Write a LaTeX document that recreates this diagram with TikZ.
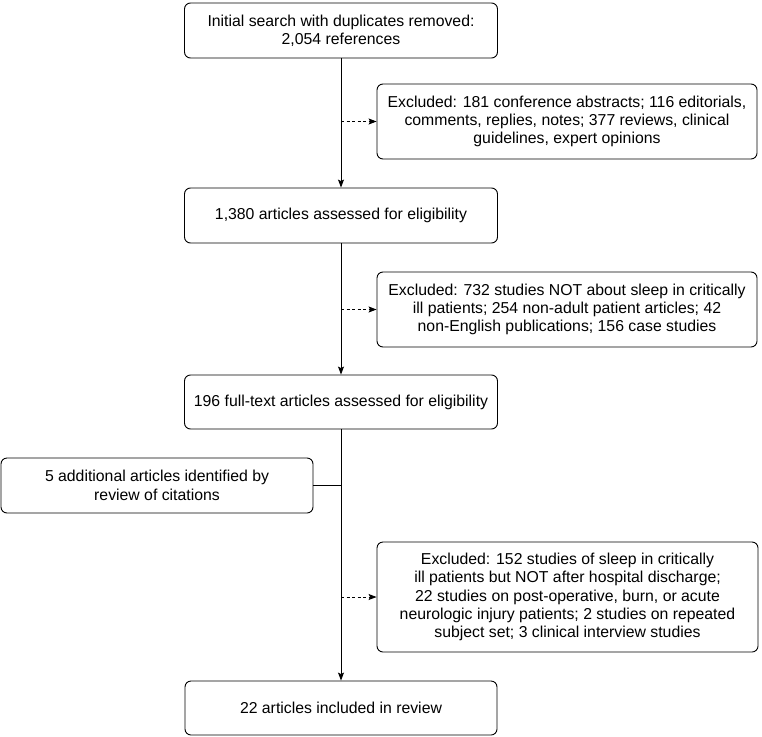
\documentclass[tikz,border=0pt]{standalone}
\usepackage{fontspec}
\setmainfont{Liberation Sans}
\usetikzlibrary{arrows.meta}
\begin{document}
\begin{tikzpicture}[x=1pt,y=-1pt,
  box/.style={draw, rounded corners=6pt, line width=0.9pt, align=center, inner sep=0pt,
    font=\fontsize{15.8}{18.4}\selectfont},
  flow/.style={line width=0.9pt, -{Stealth[length=8pt,width=6pt,inset=1.5pt]}},
  dflow/.style={flow, dashed, dash pattern=on 3pt off 2.5pt}]
\useasboundingbox (0,0) rectangle (762,736);
\node[box, minimum width=313pt, minimum height=55pt] (b1) at (341,30.5)
  {Initial search with duplicates removed:\\2,054 references};
\node[box, minimum width=380pt, minimum height=75pt] (ex1) at (567,121.5)
  {Excluded: 181 conference abstracts; 116 editorials,\\comments, replies, notes; 377 reviews, clinical\\guidelines, expert opinions};
\node[box, minimum width=313pt, minimum height=55pt] (b2) at (341,215.5)
  {1,380 articles assessed for eligibility};
\node[box, minimum width=380pt, minimum height=75pt] (ex2) at (567,309.5)
  {Excluded: 732 studies NOT about sleep in critically\\ill patients; 254 non-adult patient articles; 42\\non-English publications; 156 case studies};
\node[box, minimum width=313pt, minimum height=54pt] (b3) at (341,402)
  {196 full-text articles assessed for eligibility};
\node[box, minimum width=312pt, minimum height=55pt] (add) at (157,485.5)
  {5 additional articles identified by\\review of citations};
\node[box, minimum width=381pt, minimum height=110pt] (ex3) at (567.5,597)
  {Excluded: 152 studies of sleep in critically\\ill patients but NOT after hospital discharge;\\22 studies on post-operative, burn, or acute\\neurologic injury patients; 2 studies on repeated\\subject set; 3 clinical interview studies};
\node[box, minimum width=312pt, minimum height=54pt] (b4) at (341,708)
  {22 articles included in review};
\coordinate (j1) at (b1.south |- ex1.west);
\coordinate (j2) at (b2.south |- ex2.west);
\coordinate (j3) at (b3.south |- add.east);
\coordinate (j4) at (b3.south |- ex3.west);
\draw[flow] (b1.south) -- (b2.north);
\draw[dflow] (j1) -- (ex1.west);
\draw[flow] (b2.south) -- (b3.north);
\draw[dflow] (j2) -- (ex2.west);
\draw[flow] (b3.south) -- (b4.north);
\draw[line width=0.9pt] (add.east) -- (j3);
\draw[dflow] (j4) -- (ex3.west);
\end{tikzpicture}
\end{document}
